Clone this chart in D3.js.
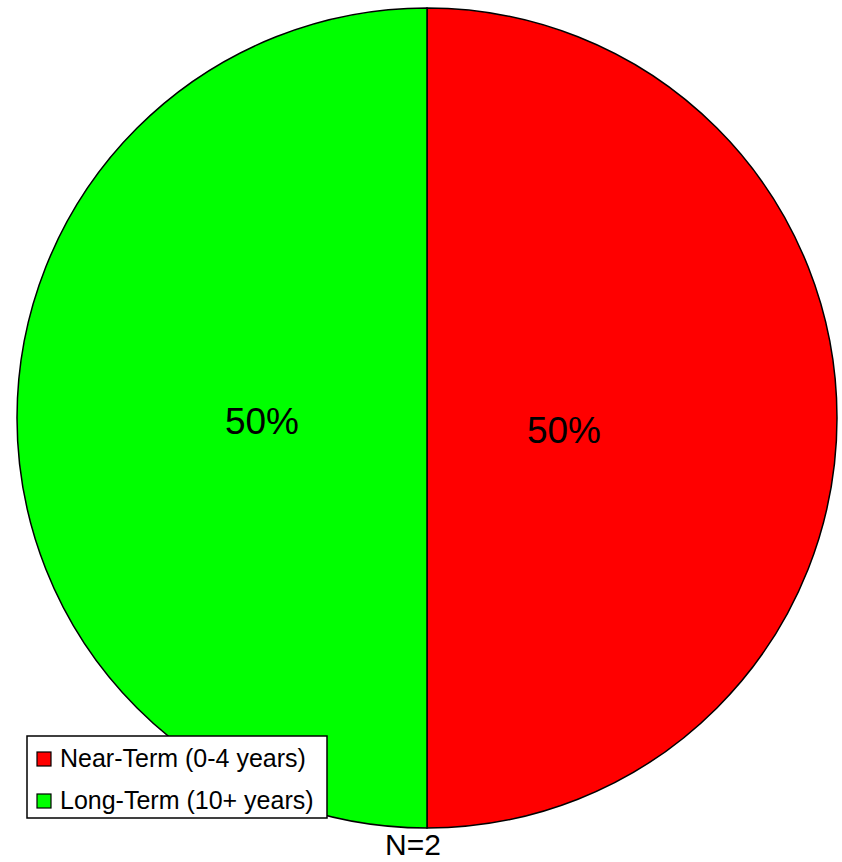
<!DOCTYPE html>
<html>
<head>
<meta charset="utf-8">
<script src="https://cdn.jsdelivr.net/npm/d3@7"></script>
<style>
html,body{margin:0;padding:0;background:#fff;}
svg{display:block;font-family:"Liberation Sans",Arial,sans-serif;}
</style>
</head>
<body>
<svg id="chart" width="842" height="862"></svg>
<script>
const categories = ["Near-Term (0-4 years)", "Long-Term (10+ years)"];
const values = [1, 1];
const colors = ["#ff0000", "#00ff00"];
const sampleLabel = "N=2";

const svg = d3.select("#chart");
const cx = 427, cy = 418, R = 410;

const pie = d3.pie().sort(null).value(d => d.value);
const data = pie(categories.map((c, i) => ({name: c, value: values[i], color: colors[i]})));
const arc = d3.arc().innerRadius(0).outerRadius(R);
const labelArc = d3.arc().innerRadius(151).outerRadius(151);
const total = d3.sum(values);

const g = svg.append("g").attr("transform", `translate(${cx},${cy})`);
g.selectAll("path.slice").data(data).join("path")
  .attr("class", "slice")
  .attr("d", arc)
  .attr("fill", d => d.data.color)
  .attr("stroke", "#000")
  .attr("stroke-width", 1.5);

const fmt = d3.format(".0%");
g.selectAll("text.pct").data(data).join("text")
  .attr("class", "pct")
  .attr("x", d => labelArc.centroid(d)[0] - 14)
  .attr("y", (d, i) => labelArc.centroid(d)[1] + (i === 0 ? 25 : 16))
  .attr("text-anchor", "middle")
  .attr("font-size", 37)
  .attr("fill", "#000")
  .text(d => fmt(d.data.value / total));

// N label
svg.append("text")
  .attr("x", 413).attr("y", 855)
  .attr("text-anchor", "middle")
  .attr("font-size", 30)
  .attr("fill", "#000")
  .text(sampleLabel);

// Legend
const lg = svg.append("g").attr("transform", "translate(27,736)");
lg.append("rect").attr("width", 300).attr("height", 82)
  .attr("fill", "#fff").attr("stroke", "#000").attr("stroke-width", 1.5);
const items = lg.selectAll("g.item").data(categories).join("g")
  .attr("class", "item")
  .attr("transform", (d, i) => `translate(10,${16 + i * 42})`);
items.append("rect").attr("width", 14).attr("height", 14)
  .attr("fill", (d, i) => colors[i]).attr("stroke", "#000").attr("stroke-width", 1.2);
items.append("text").attr("x", 23).attr("y", 15)
  .attr("font-size", 25).attr("fill", "#000")
  .text(d => d);
</script>
</body>
</html>
